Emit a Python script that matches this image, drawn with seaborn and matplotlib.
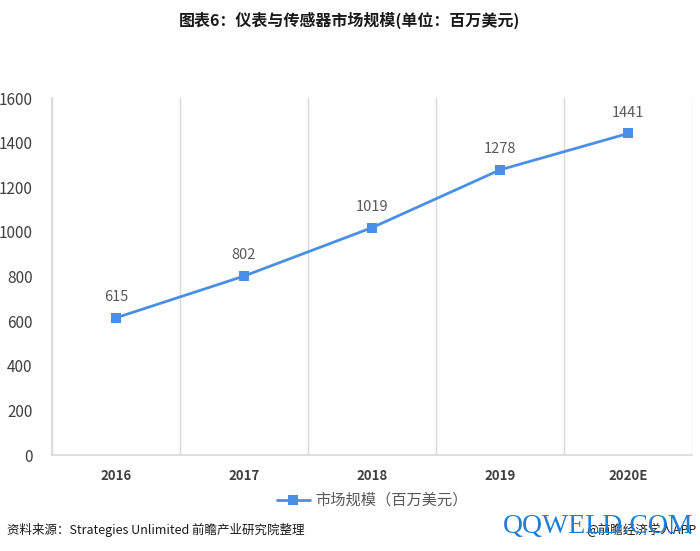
import matplotlib
matplotlib.use("Agg")
import matplotlib.pyplot as plt
import numpy as np
import pandas as pd
import seaborn as sns

years = ["2016", "2017", "2018", "2019", "2020E"]
market_size = [615, 802, 1019, 1278, 1441]
y_ticks = [0, 200, 400, 600, 800, 1000, 1200, 1400, 1600]

sns.set_theme(style="white")
plt.rcParams['font.family'] = ['Noto Sans CJK SC', 'DejaVu Sans']

df = pd.DataFrame({"pos": np.arange(len(years)), "value": market_size})

fig = plt.figure(figsize=(7, 5.51), dpi=100)
ax = fig.add_axes([0.0743, 0.1742, 0.9143, 0.6479])

line_color = "#4a8fe6"
sns.lineplot(data=df, x="pos", y="value", ax=ax, color=line_color, linewidth=2,
             marker="s", markersize=7, markeredgewidth=0, label="市场规模（百万美元）")

for x, v in zip(df["pos"], df["value"]):
    ax.annotate(str(v), (x, v), xytext=(0, 10), textcoords="offset points",
                ha="center", va="bottom", fontsize=10.5, color="#595959")

ax.set_xlim(-0.5, len(years) - 0.5)
ax.set_ylim(0, 1600)
ax.set_yticks(y_ticks)
ax.set_yticklabels([str(t) for t in y_ticks], fontsize=11, color="#404040")
ax.set_xticks(df["pos"])
ax.set_xticklabels(years, fontsize=9.5, color="#404040", fontweight="semibold")
ax.tick_params(axis="x", length=0, pad=10)
ax.tick_params(axis="y", length=0, pad=14)
for b in np.arange(-0.5, len(years), 1.0):
    ax.axvline(b, color="#d9d9d9", linewidth=1, zorder=0)
ax.set_xlabel("")
ax.set_ylabel("")
for s in ["top", "right"]:
    ax.spines[s].set_visible(False)
ax.spines["left"].set_color("#d9d9d9")
ax.spines["bottom"].set_color("#d9d9d9")

ax.legend(loc="upper center", bbox_to_anchor=(0.5, -0.065), frameon=False,
          fontsize=11, labelcolor="#595959", handlelength=2.2, handletextpad=0.3)

fig.text(0.5, 0.963, "图表6：仪表与传感器市场规模(单位：百万美元)", ha="center", va="center",
         fontsize=11.5, fontweight="bold", color="#1a1a1a")
fig.text(0.01, 0.038, "资料来源：Strategies Unlimited 前瞻产业研究院整理", ha="left",
         va="center", fontsize=9, color="#1a1a1a")
fig.text(0.995, 0.038, "@前瞻经济学人APP", ha="right", va="center", fontsize=9, color="#1a1a1a")
fig.text(0.855, 0.045, "QQWELD.COM", ha="center", va="center", fontsize=20,
         color="#1f7fd6", family=["Liberation Serif", "DejaVu Serif"])

fig.savefig("out.png", dpi=100)
